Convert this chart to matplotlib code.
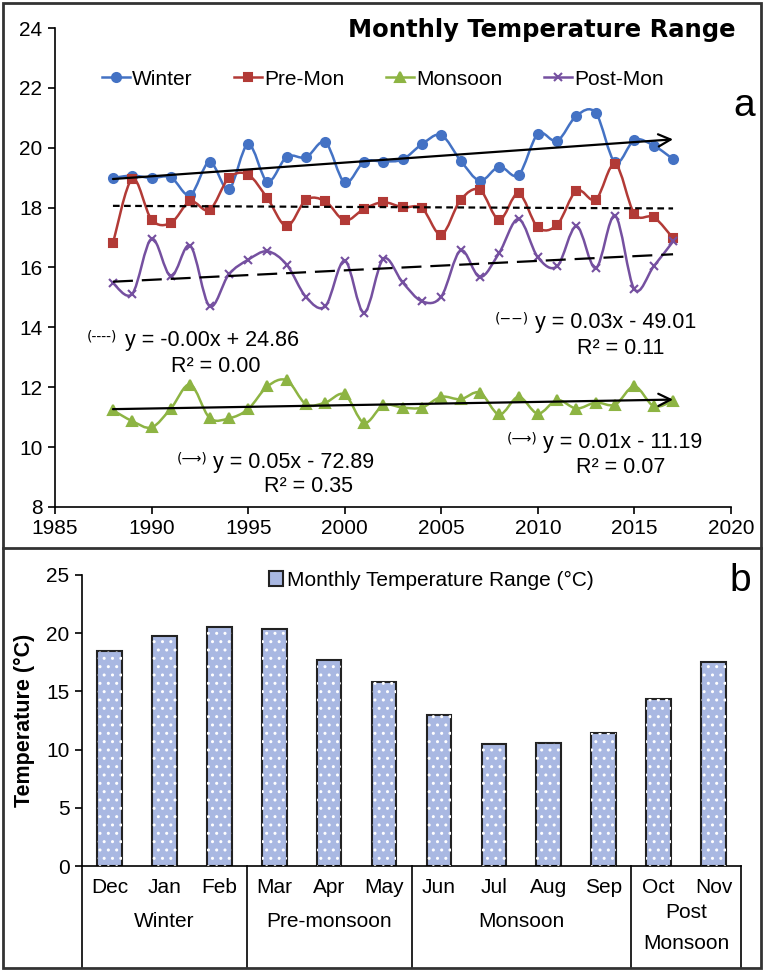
import numpy as np
import matplotlib
matplotlib.use("Agg")
import matplotlib.pyplot as plt
from matplotlib import font_manager
from matplotlib.path import Path
from matplotlib.patches import PathPatch, Rectangle
from matplotlib.lines import Line2D
import matplotlib.transforms as mtransforms

# ---- data ----
years = list(range(1988, 2018))
winter = [18.99, 19.07, 18.99, 19.01, 18.42, 19.53, 18.62, 20.12, 18.87, 19.70,
          19.68, 20.18, 18.84, 19.53, 19.54, 19.61, 20.12, 20.42, 19.57, 18.90,
          19.37, 19.09, 20.46, 20.23, 21.07, 21.16, 19.51, 20.26, 20.07, 19.62]
pre_mon = [16.81, 18.96, 17.60, 17.49, 18.21, 17.92, 18.99, 19.10, 18.31, 17.38,
           18.26, 18.21, 17.57, 17.96, 18.18, 18.01, 17.98, 17.10, 18.26, 18.59,
           17.59, 18.48, 17.34, 17.43, 18.57, 18.27, 19.46, 17.79, 17.68, 16.98]
monsoon = [11.23, 10.87, 10.66, 11.29, 12.09, 10.98, 10.96, 11.27, 12.03, 12.23,
           11.43, 11.49, 11.76, 10.81, 11.40, 11.32, 11.32, 11.68, 11.60, 11.82,
           11.09, 11.68, 11.12, 11.57, 11.29, 11.49, 11.42, 12.03, 11.37, 11.54]
post_mon = [15.48, 15.12, 16.96, 15.71, 16.73, 14.71, 15.77, 16.26, 16.54, 16.09,
            15.01, 14.71, 16.23, 14.49, 16.29, 15.50, 14.87, 15.03, 16.57, 15.68,
            16.49, 17.62, 16.34, 16.04, 17.38, 15.98, 17.73, 15.27, 16.04, 16.87]

months = ["Dec", "Jan", "Feb", "Mar", "Apr", "May", "Jun", "Jul", "Aug", "Sep", "Oct", "Nov"]
month_range = [18.47, 19.76, 20.50, 20.33, 17.70, 15.84, 12.97, 10.45, 10.54, 11.40, 14.35, 17.50]
seasons = ["Winter", "Pre-monsoon", "Monsoon", "Post\nMonsoon"]
season_len = [3, 3, 4, 2]


def pick_font(names):
    for n in names:
        try:
            font_manager.findfont(n, fallback_to_default=False)
            return n
        except Exception:
            pass
    return "DejaVu Sans"


NARROW = pick_font(["Liberation Sans Narrow", "Liberation Sans"])
ARIAL = pick_font(["Liberation Sans", "DejaVu Sans"])
plt.rcParams["font.family"] = [NARROW, "DejaVu Sans"]


def smooth_path(x, y):  # excel-like smoothed line (catmull-rom as bezier)
    pts = np.column_stack([np.asarray(x, float), np.asarray(y, float)])
    ext = np.vstack([pts[0], pts, pts[-1]])
    verts = [pts[0]]
    codes = [Path.MOVETO]
    for i in range(len(pts) - 1):
        p0, p1, p2, p3 = ext[i], ext[i + 1], ext[i + 2], ext[i + 3]
        verts += [p1 + (p2 - p0) / 6.0, p2 - (p3 - p1) / 6.0, p2]
        codes += [Path.CURVE4] * 3
    return Path(verts, codes)


W, H = 767, 972
fig = plt.figure(figsize=(W / 100, H / 100), dpi=100)

def fx(px):
    return px / W

def fy(py):
    return 1 - py / H

# ---- panel a ----
ax = fig.add_axes([fx(55), fy(507), fx(731) - fx(55), fy(28) - fy(507)])
series = [("Winter", winter, "#4472C4", "o", 6.5),
          ("Pre-Mon", pre_mon, "#B23A36", "s", 6),
          ("Monsoon", monsoon, "#8DB443", "^", 6.5),
          ("Post-Mon", post_mon, "#7550A0", "x", 6)]
handles = []
for name, vals, col, mk, ms in series:
    ax.add_patch(PathPatch(smooth_path(years, vals), facecolor="none", edgecolor=col, lw=1.8, zorder=2))
    ax.plot(years, vals, linestyle="none", marker=mk, color=col, ms=ms, mew=1.5, zorder=3)
    handles.append(Line2D([], [], color=col, lw=1.8, marker=mk, ms=ms, mew=1.5))

yr = np.array(years, float)
x0, x1 = yr[0], yr[-1]
for vals, style in [(winter, "arrow"), (monsoon, "arrow"), (pre_mon, (0, (3, 2))), (post_mon, (0, (9, 4)))]:
    k, b = np.polyfit(yr, vals, 1)
    if style == "arrow":
        ax.annotate("", xy=(x1, k * x1 + b), xytext=(x0, k * x0 + b),
                    arrowprops=dict(arrowstyle="->", lw=1.6, color="black", mutation_scale=22,
                                    shrinkA=0, shrinkB=0), zorder=4)
    else:
        ax.plot([x0, x1], [k * x0 + b, k * x1 + b], color="black", lw=1.6, linestyle=style, zorder=4)

ax.set_xlim(1985, 2020)
ax.set_ylim(8, 24)
ax.set_xticks(range(1985, 2021, 5))
ax.set_yticks(range(8, 25, 2))
for s in ["top", "right"]:
    ax.spines[s].set_visible(False)
for s in ["left", "bottom"]:
    ax.spines[s].set_linewidth(1.2)
ax.tick_params(direction="out", length=5, width=1.2, labelsize=15, pad=4)

ax.legend(handles, [s[0] for s in series], ncol=4, frameon=False, fontsize=15,
          loc="center", bbox_to_anchor=(0.485, 0.893), handlelength=1.35,
          handletextpad=0.1, columnspacing=2.0)

eq_fs = 15.5
sym_fs = 10
eqs = [("(----)", "y = -0.00x + 24.86", "R² = 0.00", 1988.2, 1988.6, 13.57, 1993.3, 12.7),
       ("(−−)", "y = 0.03x - 49.01", "R² = 0.11", 2009.55, 2009.86, 14.17, 2014.3, 13.3),
       ("(⟶)", "y = 0.05x - 72.89", "R² = 0.35", 1992.87, 1993.18, 9.5, 1998.1, 8.67),
       ("(⟶)", "y = 0.01x - 11.19", "R² = 0.07", 2009.96, 2010.27, 10.17, 2014.3, 9.33)]
for sym, eq, r2, sx, ex, ey, rx, ry in eqs:
    ax.text(sx, ey + 0.12, sym, fontsize=sym_fs, family="DejaVu Sans", ha="right", va="center")
    ax.text(ex, ey, eq, fontsize=eq_fs, family=ARIAL, ha="left", va="center")
    ax.text(rx, ry, r2, fontsize=eq_fs, family=ARIAL, ha="center", va="center")

fig.text(fx(736), fy(30), "Monthly Temperature Range", fontsize=17.5, fontweight="bold",
         family="DejaVu Sans", ha="right", va="center")
fig.text(fx(744), fy(106), "a", fontsize=28, family=ARIAL, ha="center", va="center")

# ---- panel b ----
bx = fig.add_axes([fx(82), fy(866), fx(741) - fx(82), fy(575) - fy(866)])
pos = np.arange(len(months))
bx.bar(pos, month_range, width=0.45, color="#A9B8E2", edgecolor="#222222", lw=1.5,
       label="Monthly Temperature Range (°C)", zorder=2)
bx.bar(pos, month_range, width=0.45, facecolor="none", edgecolor="white", lw=0,
       hatch="..", zorder=3)
bx.set_xlim(-0.5, len(months) - 0.5)
bx.set_ylim(0, 25)
bx.set_yticks(range(0, 26, 5))
bx.set_xticks([])
for s in ["top", "right"]:
    bx.spines[s].set_visible(False)
for s in ["left", "bottom"]:
    bx.spines[s].set_linewidth(1.2)
bx.tick_params(axis="y", direction="out", length=5, width=1.2, labelsize=15, pad=4)
bx.set_ylabel("Temperature (°C)", fontsize=15.5, fontweight="bold", family=ARIAL, labelpad=8)
bx.legend(loc="upper center", bbox_to_anchor=(0.53, 1.08), frameon=False, fontsize=15,
          handlelength=0.7, handleheight=0.7, handletextpad=0.2)

trans = mtransforms.blended_transform_factory(bx.transData, bx.transAxes)
bot = -(968 - 866) / 291
for i, m in enumerate(months):
    bx.text(i, -0.075, m, transform=trans, ha="center", va="center", fontsize=15)
edges = np.concatenate([[0], np.cumsum(season_len)]) - 0.5
for e in edges:
    bx.plot([e, e], [0, bot], transform=trans, color="black", lw=1.2, clip_on=False)
for i, s in enumerate(seasons):
    mid = (edges[i] + edges[i + 1]) / 2
    yy = -0.19 if "\n" not in s else -0.213
    bx.text(mid, yy, s, transform=trans, ha="center", va="center", fontsize=15, linespacing=1.75)

fig.text(fx(740), fy(581), "b", fontsize=28, family=ARIAL, ha="center", va="center")

# frame around both panels
fig.add_artist(Rectangle((fx(3), fy(968)), fx(761) - fx(3), fy(3) - fy(968), transform=fig.transFigure,
                         fill=False, edgecolor="#333333", lw=2))
fig.add_artist(Line2D([fx(3), fx(761)], [fy(548), fy(548)], transform=fig.transFigure,
                      color="#333333", lw=2))

fig.savefig("out.png", dpi=100)
